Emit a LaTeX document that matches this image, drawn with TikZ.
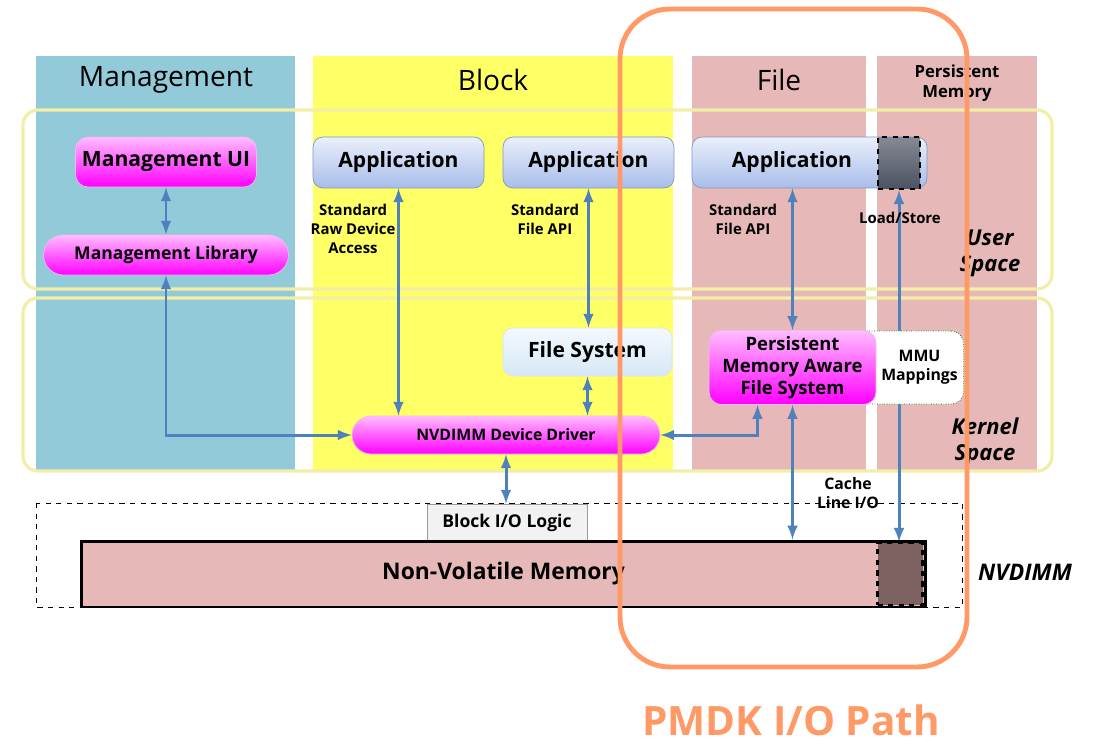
\documentclass[tikz,border=0pt]{standalone}
\usepackage{fontspec}
\setmainfont{Open Sans}
\usetikzlibrary{positioning,calc}
\pgfdeclarelayer{back}
\pgfdeclarelayer{links}
\pgfsetlayers{back,links,main}
\definecolor{mgmtbg}{HTML}{93CAD9}
\definecolor{blockbg}{HTML}{FFFF66}
\definecolor{filebg}{HTML}{E6B9B8}
\definecolor{spaceline}{HTML}{F3EEA6}
\definecolor{linkblue}{HTML}{4F81BD}
\definecolor{apptop}{HTML}{EAF0FB}
\definecolor{appbot}{HTML}{A8BDEA}
\definecolor{appline}{HTML}{8096C2}
\definecolor{magtop}{HTML}{FFBDFF}
\definecolor{magbot}{HTML}{FF00FF}
\definecolor{magline}{HTML}{F2B8F2}
\definecolor{fstop}{HTML}{F4F9FE}
\definecolor{fsbot}{HTML}{D5E8F6}
\definecolor{pmdk}{HTML}{FF9966}
\definecolor{nvmdark}{HTML}{7E6262}
\definecolor{sqtop}{HTML}{858994}
\definecolor{sqbot}{HTML}{4D5263}

\begin{document}
\begin{tikzpicture}[x=0.02cm, y=-0.02cm, semithick,
        link/.style = {latex-latex, draw=linkblue, line width=1.7pt},
        app/.style = {draw=appline, rounded corners=0.2cm, top color=apptop, bottom color=appbot, minimum height=1.02cm, font=\fontsize{12}{14}\selectfont\bfseries},
        mag/.style = {draw=magline, rounded corners=0.25cm, top color=magtop, bottom color=magbot, align=center},
        fsbox/.style = {draw=fsbot!80!black!40, rounded corners=0.2cm, top color=fstop, bottom color=fsbot},
        small/.style = {font=\fontsize{8.5}{10.8}\selectfont\bfseries, align=center},
        title/.style = {font=\fontsize{16}{18}\selectfont},
        side/.style = {font=\fontsize{12.5}{14.7}\selectfont\bfseries\itshape, align=center}]
        \useasboundingbox (0,0) rectangle (1098,744);

        \begin{pgfonlayer}{back}
        \fill[white] (0,0) rectangle (1098,744);
        \fill[mgmtbg] (36,56) rectangle (295,470);
        \fill[blockbg] (313,56) rectangle (673,470);
        \fill[filebg] (692,56) rectangle (866,470);
        \fill[filebg] (877,56) rectangle (1037,470);
        \draw[spaceline, line width=1.8pt, rounded corners=0.3cm] (23,110) rectangle (1052,289);
        \draw[spaceline, line width=1.8pt, rounded corners=0.3cm] (23,298) rectangle (1052,471);
        \draw[dashed, thin] (36,503) rectangle (962,607);
        \end{pgfonlayer}

        \node[title] (t1) at (166,80) {Management};
        \node[title] (t2) at (493,80) {Block};
        \node[title] (t3) at (779,80) {File};
        \node[small, font=\fontsize{9.5}{11.5}\selectfont\bfseries] (t4) at (957,83) {Persistent\\Memory};

        \node[mag, minimum width=3.62cm, minimum height=1.0cm, font=\fontsize{12}{14}\selectfont\bfseries] (mui) at (166,162) {Management UI};
        \node[mag, minimum width=4.9cm, minimum height=0.8cm, rounded corners=0.4cm, font=\fontsize{10}{12}\selectfont\bfseries] (mlib) at (166,255) {Management Library};

        \node[app, minimum width=3.42cm] (app1) at (398.5,162.5) {Application};
        \node[app, minimum width=3.42cm] (app2) at (588.5,162.5) {Application};
        \node[app, minimum width=4.7cm] (app3) at (809.5,162.5) {Application\hspace*{0.7cm}};
        \node[draw, dashed, line width=1.3pt, top color=sqtop, bottom color=sqbot, minimum width=0.84cm, minimum height=1.04cm] (pmsq) at (899,163) {};

        \node[small] (l1) at (353,229) {Standard\\Raw Device\\Access};
        \node[small] (l2) at (545,219) {Standard\\File API};
        \node[small] (l3) at (743,219) {Standard\\File API};
        \node[small] (l4) at (900,218) {Load/Store};
        \node[side] (us) at (990,253) {User\\Space};

        \node[fsbox, minimum width=3.38cm, minimum height=0.96cm, font=\fontsize{12}{14}\selectfont\bfseries] (fs) at (587.5,352) {File System};
        \node[draw=green!45!black, densely dotted, fill=white, rounded corners=0.25cm, minimum width=2.2cm, minimum height=1.46cm, font=\fontsize{9}{10.8}\selectfont\bfseries, align=center] (mmu) at (907,367.5) {\hspace*{0.5cm}MMU\\\hspace*{0.5cm}Mappings};
        \node[mag, minimum width=3.34cm, minimum height=1.46cm, font=\fontsize{10.5}{12.5}\selectfont\bfseries] (pmfs) at (792.5,367.5) {Persistent\\Memory Aware\\File System};
        \node[mag, minimum width=6.16cm, minimum height=0.76cm, rounded corners=0.38cm, font=\fontsize{9}{11}\selectfont\bfseries] (drv) at (506,435) {NVDIMM Device Driver};
        \node[side] (ks) at (985,442) {Kernel\\Space};

        \node[small, font=\fontsize{9}{10.8}\selectfont\bfseries] (cl) at (848,493) {Cache\\Line I/O};
        \node[draw=black!40, fill=black!5, minimum width=3.2cm, minimum height=0.74cm, font=\fontsize{10}{12}\selectfont\bfseries] (bio) at (507,522.5) {Block I/O Logic};
        \node[draw, line width=1.7pt, fill=filebg, minimum width=16.9cm, minimum height=1.32cm, font=\fontsize{13}{15}\selectfont\bfseries] (nvm) at (503.5,574) {Non-Volatile Memory};
        \node[draw, dashed, line width=1.3pt, fill=nvmdark, minimum width=0.9cm, minimum height=1.24cm] (nvmd) at (900,574) {};
        \node[side, font=\fontsize{13}{15}\selectfont\bfseries\itshape] (nd) at (1025,572) {NVDIMM};

        \begin{pgfonlayer}{links}
        \draw[link] (mui) -- (mlib);
        \draw[link] (mlib.south) |- (drv.west);
        \draw[link] (app1.south) -- (app1.south |- drv.north);
        \draw[link] (app2.south) -- (app2.south |- fs.north);
        \draw[link] (fs.south) -- (fs.south |- drv.north);
        \draw[link] (drv.south) -- (drv.south |- bio.north);
        \draw[link] (drv.east) -| ([xshift=-0.7cm]pmfs.south);
        \draw[link] (pmfs.north |- app3.south) -- (pmfs.north);
        \draw[link] (pmfs.south) -- (pmfs.south |- nvm.north);
        \draw[link] (pmsq.south) -- (pmsq.south |- nvmd.north);
        \end{pgfonlayer}

        \draw[pmdk, line width=2.8pt, rounded corners=1.0cm] (620,9) rectangle (967,667);
        \node[text=pmdk, font=\fontsize{23}{27}\selectfont\bfseries] (path) at (791,720) {PMDK I/O Path};
    \end{tikzpicture}
\end{document}
